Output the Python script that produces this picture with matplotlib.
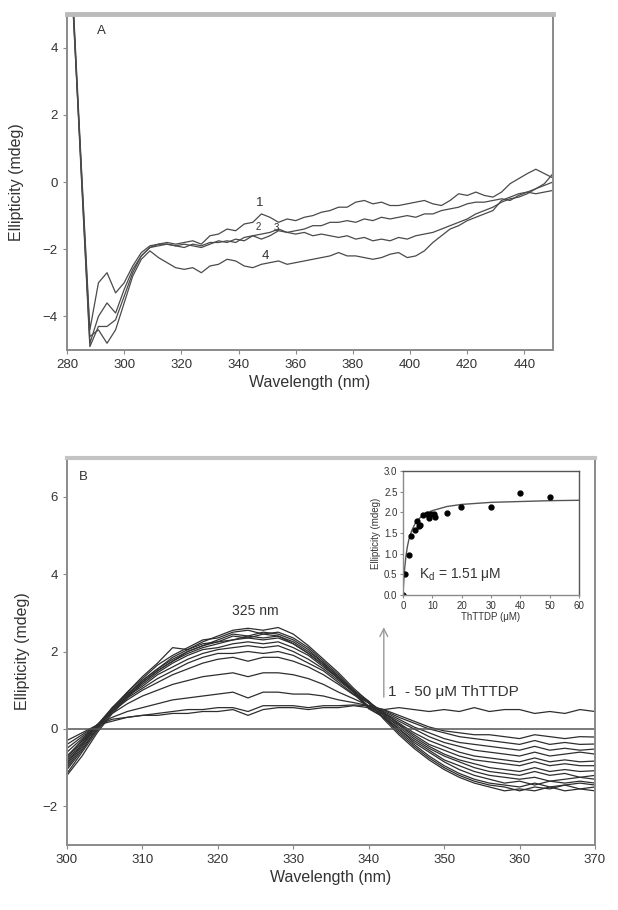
import numpy as np
import matplotlib
matplotlib.use("Agg")
import matplotlib.pyplot as plt

plt.rcParams['font.family'] = ['Liberation Sans', 'DejaVu Sans']

# ---- panel A: spectra 1-4 ----
wl_a = np.arange(282, 451, 3)
spec_a1 = [5.6, 0.5, -4.4, -3.0, -2.7, -3.3, -3.0, -2.5, -2.1, -1.9, -1.85, -1.8, -1.85, -1.8, -1.75,
           -1.85, -1.6, -1.55, -1.4, -1.45, -1.25, -1.2, -0.95, -1.05, -1.2, -1.1, -1.15, -1.05, -1.0,
           -0.9, -0.85, -0.75, -0.75, -0.6, -0.55, -0.65, -0.6, -0.7, -0.7, -0.65, -0.6, -0.55, -0.65,
           -0.7, -0.55, -0.35, -0.4, -0.3, -0.4, -0.45, -0.3, -0.05, 0.1, 0.25, 0.38, 0.25, 0.12]
spec_a2 = [5.5, 0.3, -4.8, -4.0, -3.6, -3.9, -3.2, -2.6, -2.2, -1.95, -1.85, -1.85, -1.9, -1.85, -1.9,
           -1.95, -1.85, -1.75, -1.8, -1.7, -1.75, -1.6, -1.7, -1.6, -1.45, -1.5, -1.45, -1.4, -1.3,
           -1.3, -1.2, -1.2, -1.15, -1.2, -1.1, -1.15, -1.05, -1.1, -1.05, -1.0, -1.05, -0.95, -0.95,
           -0.85, -0.8, -0.75, -0.65, -0.6, -0.6, -0.55, -0.5, -0.55, -0.4, -0.3, -0.2, -0.05, 0.25]
spec_a3 = [5.4, 0.2, -4.9, -4.3, -4.3, -4.1, -3.4, -2.7, -2.2, -1.95, -1.9, -1.85, -1.9, -1.95, -1.85,
           -1.9, -1.8, -1.8, -1.75, -1.8, -1.65, -1.6, -1.55, -1.5, -1.4, -1.5, -1.55, -1.5, -1.6,
           -1.55, -1.6, -1.65, -1.6, -1.7, -1.65, -1.75, -1.7, -1.75, -1.65, -1.7, -1.6, -1.55, -1.5,
           -1.4, -1.3, -1.2, -1.1, -0.95, -0.85, -0.75, -0.6, -0.5, -0.45, -0.35, -0.2, -0.1, 0.0]
spec_a4 = [5.3, 0.4, -4.6, -4.4, -4.8, -4.4, -3.6, -2.8, -2.3, -2.05, -2.25, -2.4, -2.55, -2.6, -2.55,
           -2.7, -2.5, -2.45, -2.3, -2.35, -2.5, -2.55, -2.45, -2.4, -2.35, -2.45, -2.4, -2.35, -2.3,
           -2.25, -2.2, -2.1, -2.2, -2.2, -2.25, -2.3, -2.25, -2.15, -2.1, -2.25, -2.2, -2.05, -1.8,
           -1.6, -1.4, -1.3, -1.15, -1.05, -0.95, -0.85, -0.55, -0.45, -0.35, -0.3, -0.35, -0.3, -0.25]

# ---- panel B: titration spectra ----
wl_b = np.arange(300, 371, 2)
spec_b = [
    [-0.3, -0.1, 0.1, 0.2, 0.3, 0.35, 0.35, 0.4, 0.4, 0.45, 0.45, 0.5, 0.35, 0.5, 0.55, 0.55, 0.5, 0.55,
     0.55, 0.6, 0.55, 0.5, 0.55, 0.5, 0.45, 0.5, 0.45, 0.55, 0.45, 0.5, 0.5, 0.4, 0.45, 0.4, 0.5, 0.45],
    [-0.4, -0.15, 0.1, 0.25, 0.3, 0.35, 0.4, 0.45, 0.5, 0.5, 0.55, 0.55, 0.45, 0.6, 0.6, 0.6, 0.55, 0.6,
     0.6, 0.62, 0.6, 0.5, 0.35, 0.2, 0.05, -0.05, -0.1, -0.15, -0.15, -0.2, -0.25, -0.15, -0.2, -0.25, -0.2, -0.21],
    [-0.5, -0.2, 0.1, 0.3, 0.45, 0.55, 0.65, 0.75, 0.8, 0.85, 0.9, 0.95, 0.8, 0.95, 0.95, 0.9, 0.9, 0.85,
     0.75, 0.68, 0.6, 0.48, 0.3, 0.15, 0.0, -0.1, -0.2, -0.25, -0.3, -0.35, -0.4, -0.3, -0.4, -0.35, -0.4, -0.39],
    [-0.6, -0.25, 0.1, 0.4, 0.65, 0.85, 1.0, 1.15, 1.25, 1.35, 1.4, 1.45, 1.35, 1.45, 1.45, 1.4, 1.3, 1.15,
     0.95, 0.78, 0.6, 0.45, 0.25, 0.05, -0.1, -0.25, -0.35, -0.4, -0.45, -0.5, -0.55, -0.45, -0.55, -0.5, -0.55, -0.52],
    [-0.7, -0.3, 0.1, 0.45, 0.75, 1.0, 1.2, 1.4, 1.55, 1.7, 1.8, 1.85, 1.75, 1.85, 1.85, 1.75, 1.6, 1.4,
     1.15, 0.88, 0.68, 0.42, 0.2, 0.0, -0.2, -0.35, -0.45, -0.55, -0.6, -0.65, -0.7, -0.6, -0.7, -0.65, -0.6, -0.65],
    [-0.75, -0.3, 0.1, 0.45, 0.8, 1.05, 1.3, 1.5, 1.7, 1.85, 1.95, 1.95, 2.0, 1.95, 2.0, 1.9, 1.7, 1.5,
     1.2, 0.9, 0.55, 0.4, 0.15, -0.1, -0.3, -0.45, -0.6, -0.7, -0.75, -0.8, -0.85, -0.75, -0.85, -0.8, -0.85, -0.83],
    [-0.8, -0.35, 0.1, 0.5, 0.85, 1.1, 1.4, 1.6, 1.8, 1.95, 2.05, 2.1, 2.15, 2.1, 2.15, 2.0, 1.8, 1.55,
     1.25, 0.95, 0.7, 0.42, 0.12, -0.15, -0.4, -0.55, -0.7, -0.8, -0.85, -0.9, -0.95, -0.85, -0.95, -0.9, -0.95, -0.95],
    [-0.85, -0.4, 0.05, 0.5, 0.85, 1.15, 1.45, 1.7, 1.9, 2.05, 2.1, 2.2, 2.25, 2.2, 2.25, 2.1, 1.9, 1.6,
     1.3, 0.95, 0.58, 0.35, 0.1, -0.2, -0.45, -0.65, -0.8, -0.9, -1.0, -1.05, -1.1, -1.0, -1.1, -1.05, -1.1, -1.08],
    [-0.9, -0.4, 0.1, 0.55, 0.9, 1.2, 1.5, 1.75, 1.95, 2.1, 2.2, 2.3, 2.35, 2.3, 2.35, 2.2, 1.95, 1.65,
     1.3, 0.95, 0.68, 0.38, 0.05, -0.25, -0.5, -0.7, -0.85, -1.0, -1.1, -1.15, -1.2, -1.1, -1.2, -1.15, -1.25, -1.2],
    [-1.0, -0.5, 0.0, 0.5, 0.9, 1.25, 1.55, 1.8, 2.0, 2.15, 2.25, 2.3, 2.4, 2.35, 2.4, 2.2, 1.95, 1.65,
     1.3, 0.95, 0.52, 0.3, 0.0, -0.3, -0.55, -0.8, -0.95, -1.1, -1.2, -1.25, -1.3, -1.25, -1.35, -1.3, -1.25, -1.3],
    [-0.95, -0.45, 0.05, 0.55, 0.95, 1.35, 1.7, 2.1, 2.05, 2.2, 2.25, 2.4, 2.35, 2.45, 2.4, 2.25, 2.0, 1.7,
     1.35, 1.0, 0.72, 0.34, 0.0, -0.35, -0.6, -0.85, -1.05, -1.2, -1.3, -1.4, -1.35, -1.45, -1.35, -1.4, -1.35, -1.4],
    [-1.2, -0.7, -0.1, 0.4, 0.8, 1.2, 1.5, 1.75, 2.0, 2.15, 2.3, 2.45, 2.4, 2.5, 2.45, 2.3, 2.05, 1.7,
     1.35, 0.95, 0.66, 0.28, -0.05, -0.4, -0.7, -0.95, -1.15, -1.3, -1.4, -1.45, -1.5, -1.4, -1.5, -1.45, -1.4, -1.45],
    [-1.05, -0.55, 0.0, 0.5, 0.95, 1.3, 1.65, 1.9, 2.1, 2.3, 2.35, 2.5, 2.55, 2.45, 2.5, 2.35, 2.1, 1.75,
     1.4, 1.0, 0.55, 0.3, -0.1, -0.45, -0.75, -1.0, -1.2, -1.35, -1.45, -1.5, -1.6, -1.5, -1.55, -1.45, -1.55, -1.5],
    [-1.15, -0.6, -0.05, 0.45, 0.85, 1.25, 1.55, 1.85, 2.05, 2.25, 2.4, 2.55, 2.6, 2.55, 2.62, 2.45, 2.15, 1.8,
     1.45, 1.05, 0.7, 0.25, -0.15, -0.5, -0.8, -1.05, -1.25, -1.4, -1.5, -1.6, -1.55, -1.6, -1.5, -1.6, -1.55, -1.6],
]

# ---- inset: binding curve ----
conc = [0, 0.8, 1.9, 2.7, 4.0, 4.8, 5.9, 5.5, 6.8, 8.2, 8.9, 9.5, 10.4, 11.0, 14.9, 19.8, 29.9, 39.8, 50.0]
delta = [0.0, 0.51, 0.97, 1.42, 1.58, 1.79, 1.69, 1.66, 1.93, 1.95, 1.85, 1.97, 1.97, 1.89, 1.99, 2.12, 2.12, 2.46, 2.36]
fit_x = [0, 0.25, 0.5, 1, 1.5, 2, 3, 4, 5, 6, 8, 10, 15, 20, 30, 40, 50, 60]
fit_y = [0.0, 0.33, 0.59, 0.94, 1.17, 1.34, 1.56, 1.71, 1.81, 1.88, 1.98, 2.04, 2.14, 2.19, 2.24, 2.26, 2.28, 2.29]

grey = '#8a8a8a'
txt = '#333333'

fig = plt.figure(figsize=(6.18, 9.10), dpi=100)


def style(ax, lw=1.4):
    for s in ax.spines.values():
        s.set_color(grey)
        s.set_linewidth(lw)
    ax.tick_params(colors=grey, labelcolor=txt, labelsize=9.5, length=3, width=0.8)


# panel A
axA = fig.add_axes([0.1084, 0.6154, 0.7864, 0.3692])
for s in [spec_a1, spec_a2, spec_a3, spec_a4]:
    axA.plot(wl_a, s, color='#4a4a4a', lw=0.9)
axA.set_xlim(280, 450)
axA.set_ylim(-5, 5)
axA.set_xticks(range(280, 441, 20))
axA.set_yticks([-4, -2, 0, 2, 4])
axA.set_xlabel('Wavelength (nm)', fontsize=11.5, color=txt, labelpad=3)
axA.set_ylabel('Ellipticity (mdeg)', fontsize=11.5, color=txt)
axA.yaxis.set_label_coords(-0.088, 0.5)
axA.text(292, 4.5, 'A', fontsize=9.5, color=txt, ha='center', va='center')
axA.text(347.5, -0.63, '1', fontsize=9.5, color=txt, ha='center', va='center')
axA.text(346.8, -1.34, '2', fontsize=7, color=txt, ha='center', va='center')
axA.text(353.4, -1.37, '3', fontsize=7, color=txt, ha='center', va='center')
axA.text(349.5, -2.2, '4', fontsize=9.5, color=txt, ha='center', va='center')
style(axA)
axA.spines['top'].set_linewidth(3.5)
axA.spines['top'].set_color('#bbbbbb')

# panel B
axB = fig.add_axes([0.1084, 0.0714, 0.8544, 0.4253])
for s in spec_b:
    axB.plot(wl_b, s, color='#2e2e2e', lw=0.9)
axB.axhline(0, color='#555555', lw=1.1)
axB.set_xlim(300, 370)
axB.set_ylim(-3, 7)
axB.set_xticks(range(300, 371, 10))
axB.set_yticks([-2, 0, 2, 4, 6])
axB.set_xlabel('Wavelength (nm)', fontsize=11.5, color=txt, labelpad=3)
axB.set_ylabel('Ellipticity (mdeg)', fontsize=11.5, color=txt)
axB.yaxis.set_label_coords(-0.07, 0.5)
axB.text(302.2, 6.5, 'B', fontsize=9.5, color=txt, ha='center', va='center')
axB.text(325, 3.05, '325 nm', fontsize=10, color=txt, ha='center', va='center')
axB.annotate('', xy=(342, 2.7), xytext=(342, 0.75),
             arrowprops=dict(arrowstyle='->', color='#999999', lw=1.0, mutation_scale=14))
axB.text(342.6, 0.96, '1  - 50 μM ThTTDP', fontsize=11, color=txt, ha='left', va='center')
style(axB)
axB.spines['top'].set_linewidth(3)
axB.spines['top'].set_color('#c4c4c4')

# inset
axI = fig.add_axes([0.6521, 0.3462, 0.2848, 0.1363])
axI.plot(fit_x, fit_y, color='#555555', lw=1.0)
axI.plot(conc, delta, 'o', color='black', ms=3.5)
axI.set_xlim(0, 60)
axI.set_ylim(0, 3.0)
axI.set_xticks(range(0, 61, 10))
axI.set_yticks(np.arange(0, 3.01, 0.5))
axI.yaxis.set_major_formatter(matplotlib.ticker.FormatStrFormatter('%.1f'))
axI.set_xlabel('ThTTDP (μM)', fontsize=7, color=txt, labelpad=1)
axI.set_ylabel('Ellipticity (mdeg)', fontsize=7, color=txt, labelpad=2)
axI.text(5.5, 0.5, 'K$_\\mathregular{d}$ = 1.51 μM', fontsize=10, color=txt, ha='left', va='center')
style(axI, lw=1.0)
axI.tick_params(labelsize=7, length=2, pad=2)
axI.spines['top'].set_color('#555555')
axI.spines['right'].set_color('#555555')

fig.savefig('out.png', dpi=100, facecolor='white')
